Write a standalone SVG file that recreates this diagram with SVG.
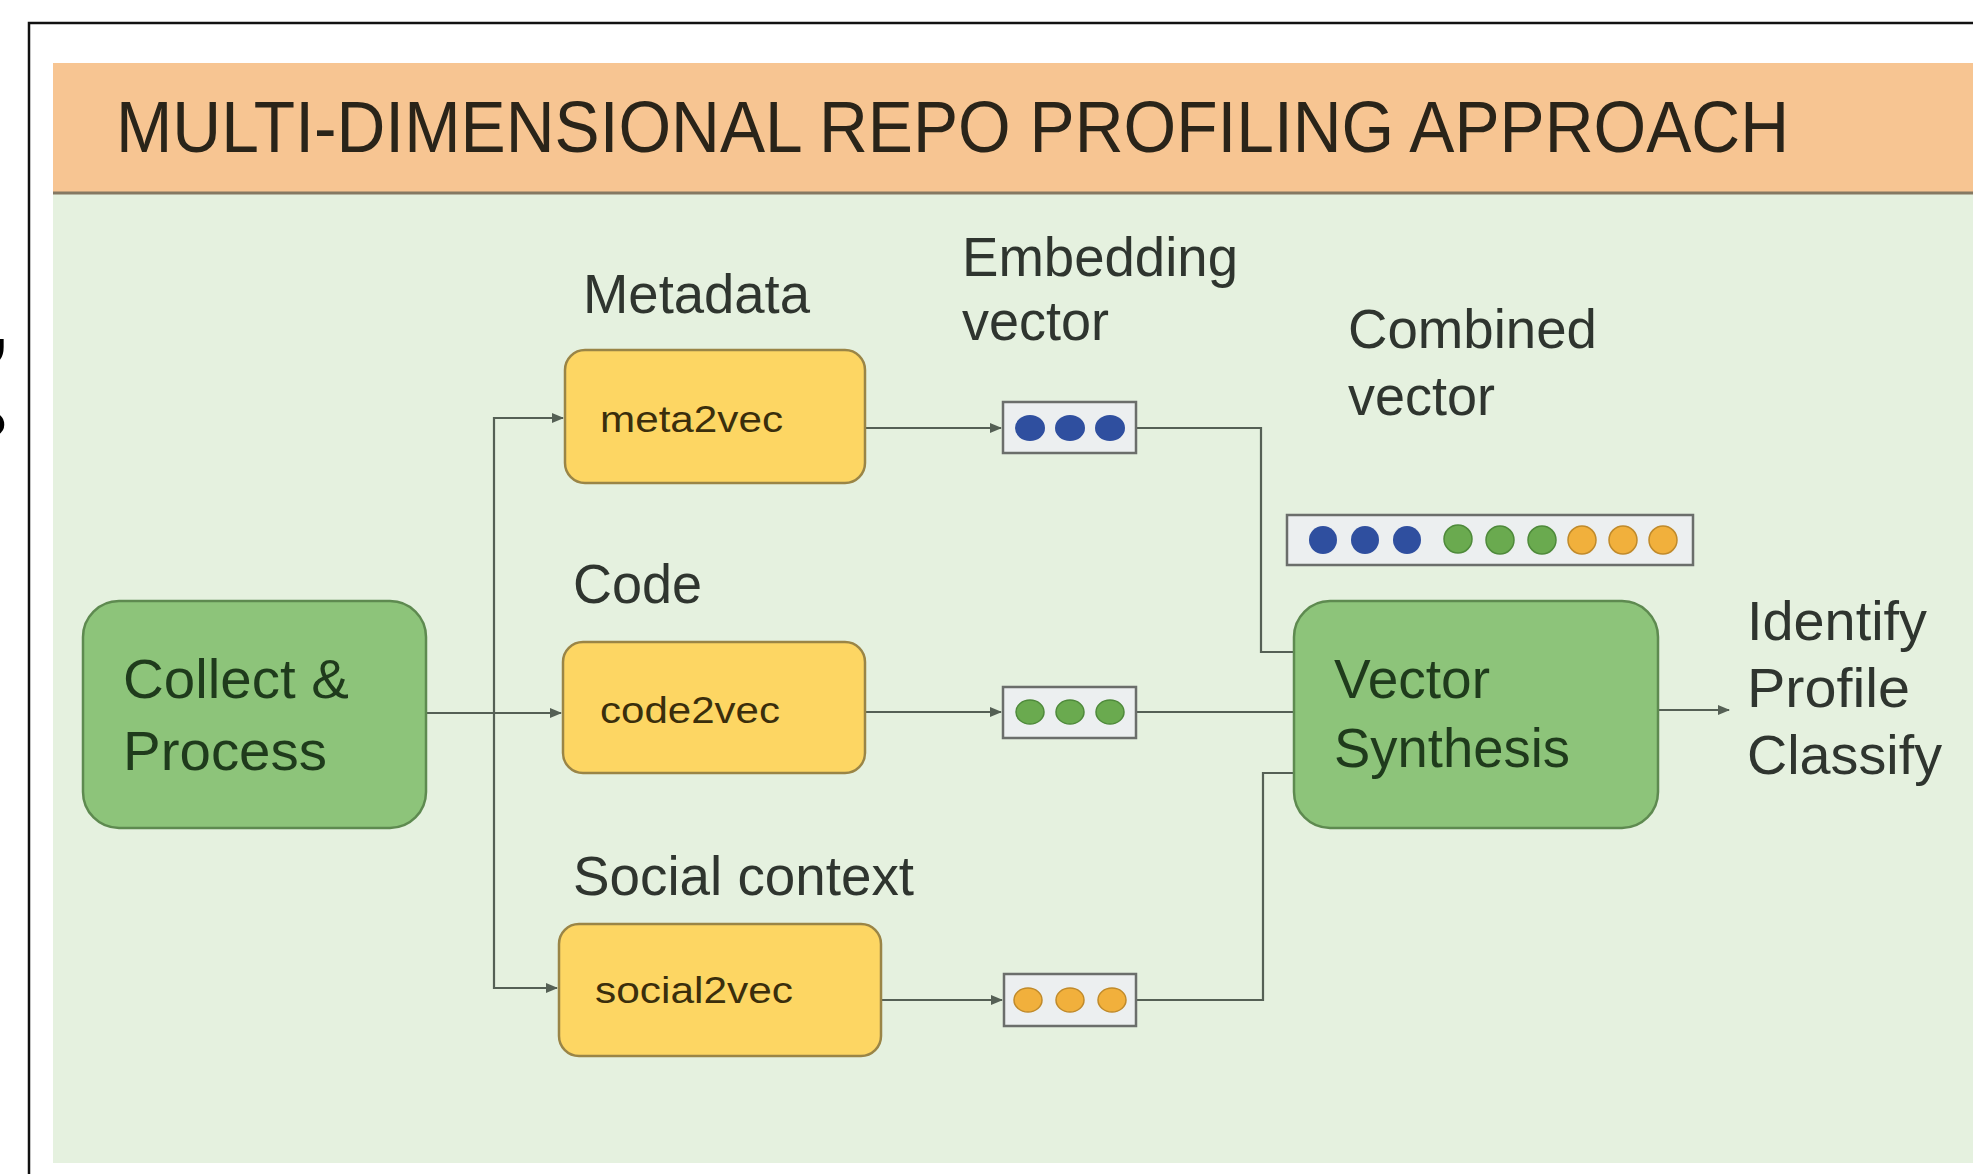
<svg xmlns="http://www.w3.org/2000/svg" width="1973" height="1174" viewBox="0 0 1973 1174">
  <style>
    .label { font-family: "Liberation Sans", Arial, sans-serif; font-size: 55px; fill: #2f352f; }
    .title { font-family: "Liberation Sans", Arial, sans-serif; font-size: 72px; fill: #2a2419; }
    .gnode rect { fill: #8dc47a; stroke: #5e8a50; stroke-width: 2.5; }
    .gnode text { font-family: "Liberation Sans", Arial, sans-serif; font-size: 55px; fill: #1f3b1c; }
    .ynode rect { fill: #fdd663; stroke: #9a8546; stroke-width: 2.5; }
    .ynode text { font-family: "Liberation Sans", Arial, sans-serif; font-size: 36px; fill: #3a2e0c; }
    .vec rect { fill: #eceff0; stroke: #6b6e6b; stroke-width: 2.5; }
    .blue { fill: #2f4f9f; }
    .green { fill: #6aaa4f; stroke: #4e8a3a; stroke-width: 1.5; }
    .orange { fill: #f1b03c; stroke: #c08a2a; stroke-width: 1.5; }
    .conn path { fill: none; stroke: #556055; stroke-width: 2.2; }
    .frag { font-family: "Liberation Sans", Arial, sans-serif; font-weight: bold; font-size: 66px; fill: #000; }
  </style>
  <defs>
    <marker id="arrow" markerUnits="userSpaceOnUse" markerWidth="12" markerHeight="12" viewBox="0 0 12 12" refX="11" refY="6" orient="auto">
      <path d="M0,1 L12,6 L0,11 Z" fill="#556055"/>
    </marker>
  </defs>

  <!-- page -->
  <rect x="0" y="0" width="1973" height="1174" fill="#ffffff"/>
  <text class="frag" x="8" y="349" text-anchor="end">,</text>
  <text class="frag" x="8" y="458" text-anchor="end">?</text>
  <path d="M29,1174 V23 H1973" fill="none" stroke="#111" stroke-width="2.5"/>

  <!-- slide background -->
  <rect x="53" y="194" width="1920" height="969" fill="#e5f1df"/>
  <rect x="53" y="63" width="1920" height="130" fill="#f7c592"/>
  <line x1="53" y1="193" x2="1973" y2="193" stroke="#857963" stroke-width="3"/>
  <text class="title" x="116" y="152" textLength="1673" lengthAdjust="spacingAndGlyphs">MULTI-DIMENSIONAL REPO PROFILING APPROACH</text>

  <!-- section labels -->
  <g id="labels">
    <text class="label" x="583" y="313" textLength="227" lengthAdjust="spacingAndGlyphs">Metadata</text>
    <text class="label" x="962" y="276" textLength="276" lengthAdjust="spacingAndGlyphs">Embedding</text>
    <text class="label" x="962" y="340" textLength="147" lengthAdjust="spacingAndGlyphs">vector</text>
    <text class="label" x="1348" y="348" textLength="249" lengthAdjust="spacingAndGlyphs">Combined</text>
    <text class="label" x="1348" y="415" textLength="147" lengthAdjust="spacingAndGlyphs">vector</text>
    <text class="label" x="573" y="603" textLength="129" lengthAdjust="spacingAndGlyphs">Code</text>
    <text class="label" x="573" y="895" textLength="341" lengthAdjust="spacingAndGlyphs">Social context</text>
  </g>

  <!-- connectors -->
  <g id="connectors" class="conn">
    <path d="M426,713 H561" marker-end="url(#arrow)"/>
    <path d="M494,713 V418 H563" marker-end="url(#arrow)"/>
    <path d="M494,713 V988 H557" marker-end="url(#arrow)"/>
    <path d="M865,428 H1001" marker-end="url(#arrow)"/>
    <path d="M865,712 H1001" marker-end="url(#arrow)"/>
    <path d="M881,1000 H1002" marker-end="url(#arrow)"/>
    <path d="M1136,428 H1261 V652 H1294"/>
    <path d="M1136,712 H1294"/>
    <path d="M1136,1000 H1263 V773 H1294"/>
    <path d="M1658,710 H1729" marker-end="url(#arrow)"/>
  </g>

  <!-- nodes -->
  <g id="collect" class="gnode">
    <rect x="83" y="601" width="343" height="227" rx="36"/>
    <text x="123" y="698" textLength="226" lengthAdjust="spacingAndGlyphs">Collect &amp;</text>
    <text x="123" y="770" textLength="204" lengthAdjust="spacingAndGlyphs">Process</text>
  </g>

  <g id="meta2vec" class="ynode">
    <rect x="565" y="350" width="300" height="133" rx="20"/>
    <text x="600" y="432" textLength="183" lengthAdjust="spacingAndGlyphs">meta2vec</text>
  </g>

  <g id="code2vec" class="ynode">
    <rect x="563" y="642" width="302" height="131" rx="20"/>
    <text x="600" y="723" textLength="180" lengthAdjust="spacingAndGlyphs">code2vec</text>
  </g>

  <g id="social2vec" class="ynode">
    <rect x="559" y="924" width="322" height="132" rx="20"/>
    <text x="595" y="1003" textLength="198" lengthAdjust="spacingAndGlyphs">social2vec</text>
  </g>

  <g id="meta-vector" class="vec">
    <rect x="1003" y="402" width="133" height="51"/>
    <ellipse class="blue" cx="1030" cy="428" rx="15" ry="13"/>
    <ellipse class="blue" cx="1070" cy="428" rx="15" ry="13"/>
    <ellipse class="blue" cx="1110" cy="428" rx="15" ry="13"/>
  </g>

  <g id="code-vector" class="vec">
    <rect x="1003" y="687" width="133" height="51"/>
    <ellipse class="green" cx="1030" cy="712" rx="14" ry="12"/>
    <ellipse class="green" cx="1070" cy="712" rx="14" ry="12"/>
    <ellipse class="green" cx="1110" cy="712" rx="14" ry="12"/>
  </g>

  <g id="social-vector" class="vec">
    <rect x="1004" y="974" width="132" height="52"/>
    <ellipse class="orange" cx="1028" cy="1000" rx="14" ry="12"/>
    <ellipse class="orange" cx="1070" cy="1000" rx="14" ry="12"/>
    <ellipse class="orange" cx="1112" cy="1000" rx="14" ry="12"/>
  </g>

  <g id="combined-vector" class="vec">
    <rect x="1287" y="515" width="406" height="50"/>
    <circle class="blue" cx="1323" cy="540" r="14"/>
    <circle class="blue" cx="1365" cy="540" r="14"/>
    <circle class="blue" cx="1407" cy="540" r="14"/>
    <circle class="green" cx="1458" cy="539" r="14"/>
    <circle class="green" cx="1500" cy="540" r="14"/>
    <circle class="green" cx="1542" cy="540" r="14"/>
    <circle class="orange" cx="1582" cy="540" r="14"/>
    <circle class="orange" cx="1623" cy="540" r="14"/>
    <circle class="orange" cx="1663" cy="540" r="14"/>
  </g>

  <g id="vector-synthesis" class="gnode">
    <rect x="1294" y="601" width="364" height="227" rx="36"/>
    <text x="1334" y="698" textLength="156" lengthAdjust="spacingAndGlyphs">Vector</text>
    <text x="1334" y="767" textLength="236" lengthAdjust="spacingAndGlyphs">Synthesis</text>
  </g>

  <g id="outcome">
    <text class="label" x="1747" y="640" textLength="180" lengthAdjust="spacingAndGlyphs">Identify</text>
    <text class="label" x="1747" y="707" textLength="163" lengthAdjust="spacingAndGlyphs">Profile</text>
    <text class="label" x="1747" y="774" textLength="195" lengthAdjust="spacingAndGlyphs">Classify</text>
  </g>
</svg>
